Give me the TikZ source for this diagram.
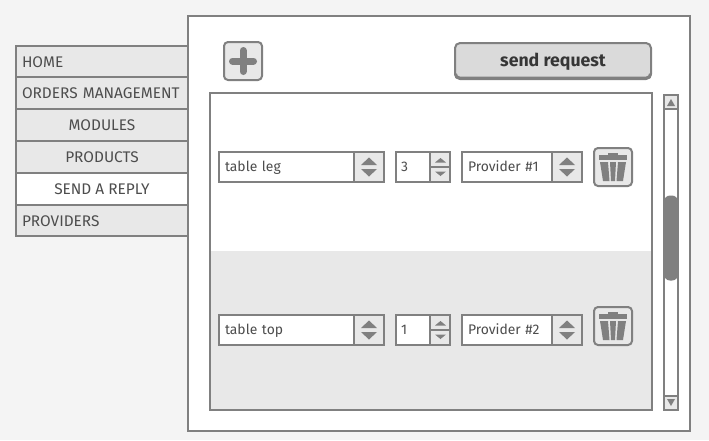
\documentclass[tikz,border=0pt]{standalone}
\usepackage{fontspec}
\setmainfont{Fira Sans}
\usepackage{xcolor}
\usetikzlibrary{positioning}
\definecolor{wfLine}{HTML}{808080}
\definecolor{wfFill}{HTML}{E8E8E8}
\definecolor{wfPage}{HTML}{F4F4F4}
\definecolor{wfText}{HTML}{4D4D4D}
\definecolor{wfBtn}{HTML}{DADADA}

\begin{document}
\begin{tikzpicture}[x=1pt,y=-1pt,
  menu/.style={draw=wfLine, line width=2pt, fill=#1, minimum width=172pt, minimum height=32pt, inner sep=0pt, text=wfText, text height=11.5pt, text depth=0pt, font=\fontsize{15.4}{17}\selectfont},
  field/.style={draw=wfLine, line width=2pt, fill=white, minimum width=#1, minimum height=30pt, inner sep=0pt, text=wfText, text height=9.5pt, text depth=0pt, font=\fontsize{13.9}{16}\selectfont},
  cell/.style={draw=wfLine, line width=2pt, fill=wfFill, minimum width=#1, inner sep=0pt},
  iconbtn/.style={draw=wfLine, line width=2pt, rounded corners=4pt, minimum size=38pt, inner sep=0pt},
  updown/.pic={
    \fill[wfLine] (-8,-2) -- (8,-2) -- (0,-9.5) -- cycle;
    \fill[wfLine] (-8,2) -- (8,2) -- (0,9.5) -- cycle;
  },
  trashcan/.pic={
    \fill[wfLine] (-14,-12) rectangle (14,-7);
    \fill[wfLine] (-5,-14) rectangle (5,-12);
    \fill[wfLine] (-13,-5) -- (-5,-5) -- (-3.5,14) -- (-10,14) -- cycle;
    \fill[wfLine] (-3,-5) -- (3,-5) -- (2,14) -- (-2,14) -- cycle;
    \fill[wfLine] (5,-5) -- (13,-5) -- (10,14) -- (3.5,14) -- cycle;
  }
]
\useasboundingbox (0,0) rectangle (709,440);
\fill[wfPage] (0,0) rectangle (709,440);
% main window
\node[draw=wfLine, line width=2pt, fill=white, minimum width=502pt, minimum height=415pt] (window) at (439,223.5) {};
% left menu
\node[menu=wfFill, text width=160pt, minimum height=31pt] (home) at (102,61.5) {HOME};
\node[menu=wfFill, text width=160pt] (orders) at (102,93) {ORDERS MANAGEMENT};
\node[menu=wfFill] (modules) at (102,125) {MODULES};
\node[menu=wfFill] (products) at (102,157) {PRODUCTS};
\node[menu=white] (reply) at (102,189) {SEND A REPLY};
\node[menu=wfFill, text width=160pt, minimum height=31pt] (providers) at (102,220.5) {PROVIDERS};
% top buttons
\node[iconbtn, fill=wfFill] (add) at (243,61) {};
\draw[wfLine, line width=7pt, line cap=round] (232.5,61) -- (253.5,61);
\draw[wfLine, line width=7pt, line cap=round] (243,50.5) -- (243,71.5);
\node[draw=wfLine, line width=2pt, fill=wfBtn, rounded corners=5pt, minimum width=196pt, minimum height=36pt, inner sep=0pt, text=wfText!70!black, text height=10pt, text depth=0pt, font=\fontsize{17.7}{20}\selectfont\bfseries] (send) at (553,61) {send request};
\draw[wfLine, line width=3pt, rounded corners=4pt] (455.5,74) -- (455.5,78) -- (650.5,78) -- (650.5,74);
% list panel
\fill[wfFill] (210,251) rectangle (652,410);
\node[draw=wfLine, line width=2pt, minimum width=442pt, minimum height=317pt] (panel) at (431,251.5) {};
% row 1
\def\yR{167}
\node[field=165pt, text width=153pt] (item1) at (301.5,\yR) {table leg};
\node[cell=30pt, minimum height=30pt] (itembtn1) at (369,\yR) {};
\pic at (369,\yR) {updown};
\node[field=54pt, text width=44pt] (qty1) at (423,\yR) {3};
\node[cell=20pt, minimum height=15pt] (qtyup1) at (440,\yR-7.5) {};
\node[cell=20pt, minimum height=15pt] (qtydn1) at (440,\yR+7.5) {};
\fill[wfLine] (435,162.5) -- (446,162.5) -- (440.5,158) -- cycle;
\fill[wfLine] (435,171.5) -- (446,171.5) -- (440.5,176) -- cycle;
\node[field=120pt, text width=108pt] (prov1) at (522,\yR) {Provider \#1};
\node[cell=30pt, minimum height=30pt] (provbtn1) at (567,\yR) {};
\pic at (567,\yR) {updown};
\node[iconbtn, fill=wfFill] (del1) at (613,167) {};
\pic at (613,167) {trashcan};
% row 2
\def\yS{330}
\node[field=165pt, text width=153pt] (item2) at (301.5,\yS) {table top};
\node[cell=30pt, minimum height=30pt] (itembtn2) at (369,\yS) {};
\pic at (369,\yS) {updown};
\node[field=54pt, text width=44pt] (qty2) at (423,\yS) {1};
\node[cell=20pt, minimum height=15pt] (qtyup2) at (440,\yS-7.5) {};
\node[cell=20pt, minimum height=15pt] (qtydn2) at (440,\yS+7.5) {};
\fill[wfLine] (435,325.5) -- (446,325.5) -- (440.5,321) -- cycle;
\fill[wfLine] (435,334.5) -- (446,334.5) -- (440.5,339) -- cycle;
\node[field=120pt, text width=108pt] (prov2) at (522,\yS) {Provider \#2};
\node[cell=30pt, minimum height=30pt] (provbtn2) at (567,\yS) {};
\pic at (567,\yS) {updown};
\node[iconbtn] (del2) at (613,326) {};
\pic at (613,326) {trashcan};
% scroll bar
\node[draw=wfLine, line width=2pt, fill=white, minimum width=14pt, minimum height=315pt, inner sep=0pt] (track) at (671,252.5) {};
\node[cell=14pt, minimum height=14pt] (scrollup) at (671,102) {};
\node[cell=14pt, minimum height=14pt] (scrolldn) at (671,403) {};
\fill[wfLine] (667,106) -- (675,106) -- (671,99) -- cycle;
\fill[wfLine] (667,399) -- (675,399) -- (671,406) -- cycle;
\node[fill=wfLine, rounded corners=6pt, minimum width=14pt, minimum height=85pt, inner sep=0pt] (thumb) at (671,238) {};
\end{tikzpicture}
\end{document}
